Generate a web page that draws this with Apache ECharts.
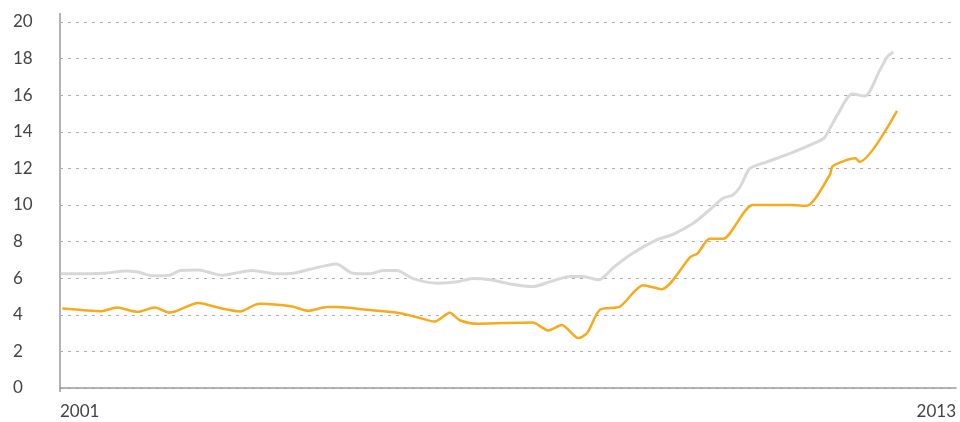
<!DOCTYPE html>
<html>
<head>
<meta charset="utf-8">
<script src="https://cdn.jsdelivr.net/npm/echarts@6/dist/echarts.min.js"></script>
<style>
  html, body { margin: 0; padding: 0; background: #fff; }
  #chart { width: 960px; height: 422px; }
</style>
</head>
<body>
<div id="chart"></div>
<script>
// years on the x axis (fractional)
var grayYears = [2001.01, 2001.60, 2001.87, 2002.04, 2002.24, 2002.47, 2002.61, 2002.85, 2002.98, 2003.17,
  2003.34, 2003.57, 2003.91, 2004.12, 2004.35, 2004.70, 2004.92, 2005.15, 2005.33, 2005.51,
  2005.73, 2006.06, 2006.32, 2006.53, 2006.76, 2007.07, 2007.33, 2007.56, 2007.83, 2008.00,
  2008.22, 2008.41, 2008.67, 2008.99, 2009.21, 2009.48, 2009.70, 2009.88, 2010.01, 2010.11,
  2010.24, 2010.47, 2010.78, 2011.14, 2011.24, 2011.41, 2011.61, 2011.78, 2011.98, 2012.08, 2012.16]
var grayValues = [6.24, 6.27, 6.40, 6.34, 6.13, 6.16, 6.42, 6.45, 6.34, 6.16,
  6.27, 6.42, 6.24, 6.27, 6.49, 6.78, 6.27, 6.24, 6.42, 6.42,
  5.98, 5.73, 5.80, 5.98, 5.91, 5.65, 5.54, 5.80, 6.09, 6.09,
  5.91, 6.58, 7.36, 8.09, 8.40, 9.00, 9.73, 10.37, 10.55, 11.00,
  12.00, 12.36, 12.82, 13.45, 13.69, 14.91, 16.06, 15.95, 17.37, 18.09, 18.36]

var orangeYears = [2001.03, 2001.56, 2001.76, 2002.04, 2002.27, 2002.47, 2002.85, 2003.17, 2003.41, 2003.61,
  2003.68, 2004.11, 2004.32, 2004.58, 2004.71, 2005.11, 2005.55, 2005.78, 2006.02, 2006.22,
  2006.36, 2006.60, 2007.33, 2007.54, 2007.72, 2007.94, 2008.06, 2008.23, 2008.50, 2008.81,
  2009.06, 2009.44, 2009.54, 2009.70, 2009.88, 2010.28, 2010.78, 2011.00, 2011.31, 2011.35,
  2011.65, 2011.71, 2012.21]
var orangeValues = [4.34, 4.20, 4.40, 4.16, 4.40, 4.12, 4.64, 4.34, 4.18, 4.54,
  4.60, 4.45, 4.22, 4.42, 4.42, 4.27, 4.09, 3.87, 3.63, 4.11,
  3.69, 3.51, 3.58, 3.14, 3.44, 2.73, 3.00, 4.27, 4.45, 5.62,
  5.40, 7.15, 7.36, 8.16, 8.16, 10.00, 10.00, 9.96, 11.64, 12.13,
  12.55, 12.36, 15.14]

var yearLabels = [2001, 2013]

function pairs(xs, ys) {
  return xs.map(function (x, i) { return [x, ys[i]] })
}

var chart = echarts.init(document.getElementById("chart"))
var labelFont = { fontFamily: "Lato", fontWeight: 400, fontSize: 17, color: "#444" }

chart.setOption({
  animation: false,
  grid: { left: 60, right: 4, top: 22, bottom: 34 },
  xAxis: {
    type: "value",
    min: 2001,
    max: 2013,
    offset: 3,
    axisLine: { show: true, lineStyle: { color: "#9a9a9a", width: 1.5 } },
    axisTick: { show: false },
    splitLine: { show: false },
    axisLabel: Object.assign({
      customValues: yearLabels,
      margin: 12,
      alignMinLabel: "left",
      alignMaxLabel: "right",
      formatter: function (v) { return String(v) }
    }, labelFont)
  },
  yAxis: {
    type: "value",
    min: 0,
    max: 20,
    interval: 2,
    axisLine: { show: false },
    axisTick: { show: false },
    axisLabel: Object.assign({ align: "left", margin: 47 }, labelFont),
    splitLine: { lineStyle: { color: "#adadad", type: [3, 5], width: 1 } }
  },
  // left axis line runs a little past the 0 and 20 gridlines
  graphic: [{
    type: "line",
    shape: { x1: 60, y1: 13, x2: 60, y2: 392 },
    style: { stroke: "#9a9a9a", lineWidth: 1.5 }
  }],
  series: [
    {
      type: "line",
      data: pairs(grayYears, grayValues),
      showSymbol: false,
      smooth: 0.25,
      lineStyle: { color: "#d8d8d8", width: 3 }
    },
    {
      type: "line",
      data: pairs(orangeYears, orangeValues),
      showSymbol: false,
      smooth: 0.25,
      lineStyle: { color: "#f6aa1c", width: 2.5 }
    }
  ]
})
</script>
</body>
</html>
